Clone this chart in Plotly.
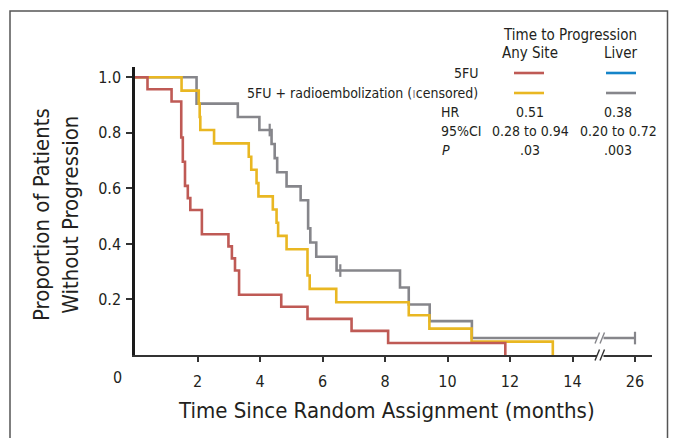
import plotly.graph_objects as go

# ---------------- data ----------------
# 5FU, time to progression any site (red)
red_t = [0, 0.40, 1.17, 1.48, 1.53, 1.60, 1.69, 1.77, 2.14, 2.99, 3.10, 3.20, 3.33, 4.68, 5.52, 6.93, 8.10, 11.85]
red_s = [1.0, 0.957, 0.913, 0.783, 0.696, 0.609, 0.565, 0.522, 0.435, 0.391, 0.348, 0.304, 0.217, 0.174, 0.130, 0.087, 0.043, 0.0]

# 5FU + radioembolization, any site (yellow)
yel_t = [0, 1.49, 2.04, 2.07, 2.09, 2.53, 3.64, 3.72, 3.89, 3.95, 4.41, 4.53, 4.58, 4.85, 5.52, 5.59, 6.44, 8.76, 9.42, 10.77, 13.37]
yel_s = [1.0, 0.952, 0.905, 0.857, 0.810, 0.762, 0.714, 0.667, 0.619, 0.571, 0.524, 0.476, 0.429, 0.381, 0.286, 0.238, 0.190, 0.143, 0.095, 0.048, 0.0]

# 5FU + radioembolization, liver (gray)
gry_t = [0, 1.97, 3.29, 3.98, 4.37, 4.47, 4.55, 4.85, 5.30, 5.54, 5.61, 5.80, 6.45, 8.48, 8.76, 9.43, 10.78, 26]
gry_s = [1.0, 0.905, 0.857, 0.810, 0.760, 0.709, 0.658, 0.607, 0.557, 0.456, 0.405, 0.354, 0.304, 0.243, 0.182, 0.122, 0.061, 0.061]
gry_cens_t = [4.31, 6.57, 26]
gry_cens_s = [0.810, 0.304, 0.061]

x_tickvals_months = [2, 4, 6, 8, 10, 12, 14, 26]
x_ticktext = ["2", "4", "6", "8", "10", "12", "14", "26"]
y_tickvals = [0.2, 0.4, 0.6, 0.8, 1.0]
y_ticktext = ["0.2", "0.4", "0.6", "0.8", "1.0"]

RED = "#bf5a55"
YEL = "#e9b722"
GRY = "#86868b"
BLU = "#1584c8"
TXT = "#231f20"
FONT = "Liberation Sans Narrow, DejaVu Sans Condensed, Arial Narrow, sans-serif"


def xmap(t):
    # axis break: 14 ... 26 compressed so that 26 sits at position 16
    return t if t <= 14.5 else 16 - (26 - t)


OFF = 8  # page body margin
W, H = 677 - OFF, 438 - OFF
L, R, T, B = 135 - OFF, 25, 67 - OFF, 83
PW, PH = W - L - R, H - T - B
YTOP = 1.037


def px(x):
    # x in screen pixels of the reference
    return (x - OFF - L) / PW


def py(y):
    return (H - B - (y - OFF)) / PH


fig = go.Figure()

for t, s, c in [(gry_t, gry_s, GRY), (yel_t, yel_s, YEL), (red_t, red_s, RED)]:
    fig.add_trace(go.Scatter(x=[xmap(v) for v in t], y=s, mode="lines",
                             line=dict(color=c, width=2.6, shape="hv"),
                             showlegend=False, hoverinfo="skip"))

fig.add_trace(go.Scatter(x=[xmap(v) for v in gry_cens_t], y=gry_cens_s, mode="markers",
                         marker=dict(symbol="line-ns", size=9, line=dict(color=GRY, width=2.2)),
                         showlegend=False, hoverinfo="skip"))

shapes = []
# outer frame
shapes.append(dict(type="rect", xref="paper", yref="paper", x0=px(10), x1=px(667.5), y0=py(11), y1=py(470),
                   line=dict(color="#555555", width=1.5), fillcolor="rgba(0,0,0,0)"))

# axis break marks
axis_y = H - B + OFF
for yy, col in [(axis_y, "#333333"), (axis_y - 0.061 * PH / YTOP, GRY)]:
    shapes.append(dict(type="line", xref="paper", yref="paper", x0=px(597), x1=px(603.5), y0=py(yy), y1=py(yy),
                       line=dict(color="white", width=5)))
    for dx in (0, 5):
        shapes.append(dict(type="line", xref="paper", yref="paper", x0=px(595 + dx), x1=px(599.5 + dx),
                           y0=py(yy + 5.5), y1=py(yy - 5.5), line=dict(color=col, width=1.4)))

# legend line samples
for x0, x1, yy, col in [(514, 544, 73, RED), (606, 636, 73, BLU), (514, 544, 93, YEL), (606, 636, 93, GRY)]:
    shapes.append(dict(type="line", xref="paper", yref="paper", x0=px(x0), x1=px(x1), y0=py(yy), y1=py(yy),
                       line=dict(color=col, width=2.6)))

ann = []


def text(x, y, s, size=14, xanchor="center", **kw):
    ann.append(dict(x=px(x), y=py(y), xref="paper", yref="paper", text=s, showarrow=False,
                    xanchor=xanchor, yanchor="middle", font=dict(family=FONT, size=size, color=TXT), **kw))


text(570, 35, "Time to Progression", 15)
text(530, 53, "Any Site", 15)
text(621, 53, "Liver", 15)
text(480, 73, "5FU", 14, xanchor="right")
text(480, 93, "5FU + radioembolization (<span style='color:#86868b'>ı</span>censored)", 14, xanchor="right")
text(439, 112, "HR", 14, xanchor="left")
text(439, 131, "95%CI", 14, xanchor="left")
text(440, 150, "<i>P</i>", 14, xanchor="left")
text(530, 112, "0.51", 14)
text(618, 112, "0.38", 14)
text(530, 131, "0.28 to 0.94", 14)
text(618, 131, "0.20 to 0.72", 14)
text(530, 150, ".03", 14)
text(618, 150, ".003", 14)
text(117, 377, "0", 16)
text(386, 410, "Time Since Random Assignment (months)", 22)
text(56, 215, "Proportion of Patients<br>Without Progression", 22, textangle=-90)

fig.update_layout(
    width=W, height=H, margin=dict(l=L, r=R, t=T, b=B),
    paper_bgcolor="white", plot_bgcolor="white",
    shapes=shapes, annotations=ann,
    xaxis=dict(range=[0, PW / 31.25], tickvals=[xmap(v) for v in x_tickvals_months], ticktext=x_ticktext,
               showgrid=False, zeroline=False, showline=True, linecolor="#333333", linewidth=2,
               ticks="outside", ticklen=5, tickwidth=1.5, tickcolor="#333333",
               tickfont=dict(family=FONT, size=16, color=TXT), ticklabelstandoff=6),
    yaxis=dict(range=[0, YTOP], tickvals=y_tickvals, ticktext=y_ticktext,
               showgrid=False, zeroline=False, showline=True, linecolor="#1a1a1a", linewidth=2.5,
               ticks="outside", ticklen=6, tickwidth=1.5, tickcolor="#333333",
               tickfont=dict(family=FONT, size=16, color=TXT), ticklabelstandoff=2),
)

fig.write_html("out.html")
